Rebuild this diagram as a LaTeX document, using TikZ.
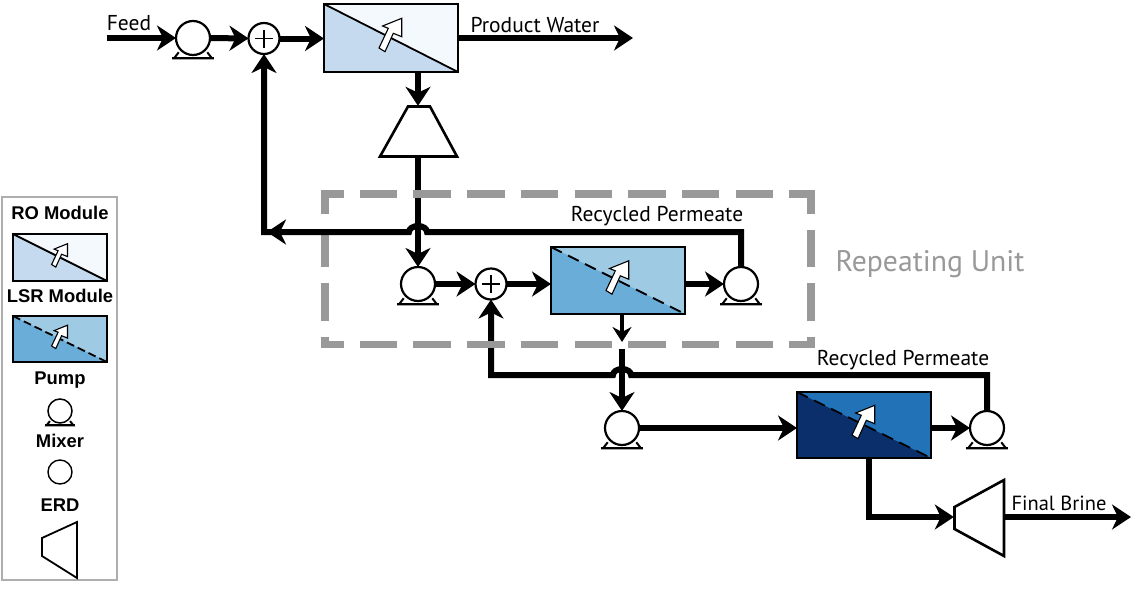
\documentclass[tikz,border=0pt]{standalone}
\usepackage{fontspec}
\setmainfont{PT Sans}
\newfontfamily\legendfont{Liberation Sans}
\usetikzlibrary{arrows.meta,calc}
\definecolor{roA}{HTML}{C5D9EF}
\definecolor{roB}{HTML}{F4F9FE}
\definecolor{lsA}{HTML}{6AADD8}
\definecolor{lsB}{HTML}{9ECAE3}
\definecolor{bgA}{HTML}{0B2F6B}
\definecolor{bgB}{HTML}{2272B8}
\definecolor{dashgray}{HTML}{999999}
\definecolor{legendgray}{HTML}{AEAEAE}
\tikzset{
  x=1pt,y=-1pt,
  flow/.style={line width=6pt,draw=black},
  flowarrow/.style={flow,line join=miter,-{Stealth[length=19pt,width=25pt,inset=6pt]}},
  thinarrow/.style={line width=4.5pt,draw=black,-{Stealth[length=15pt,width=19pt,inset=5pt]}},
  unit/.style={circle,draw=black,fill=white,line width=2.2pt,inner sep=0pt,minimum size=#1,outer sep=0pt},
  modbox/.style n args={2}{rectangle,draw=black,line width=2.2pt,inner sep=0pt,minimum width=#1,minimum height=#2,outer sep=0pt},
  plabel/.style={font=\fontsize{21.5}{24}\selectfont,inner sep=0pt},
  leglabel/.style={font=\legendfont\bfseries\fontsize{18.4}{20}\selectfont,inner sep=0pt},
  erdshape/.style={draw=black,fill=white,line width=2.6pt,line join=miter},
  hollow/.style={draw=black,fill=white,line width=1.1pt,line join=miter},
  framedash/.style={draw=dashgray,line width=7.5pt,dash pattern=on 37.5pt off 16.2pt},
}
% \pumpunit[opts]{name}{x}{y}{diam}
\newcommand{\pumpunit}[5][]{%
  \draw[black,line width=2pt,fill=white] ($(#3,#4)+(-0.42*#5,0.42*#5)$) -- ($(#3,#4)+(-0.56*#5,0.60*#5)$) -- ($(#3,#4)+(0.56*#5,0.60*#5)$) -- ($(#3,#4)+(0.42*#5,0.42*#5)$);
  \draw[black,line width=2pt] ($(#3,#4)+(-0.62*#5,0.60*#5)$) -- ($(#3,#4)+(0.62*#5,0.60*#5)$);
  \node[unit=#5 pt,#1] (#2) at (#3,#4) {};
}
% \mixerunit{name}{x}{y}
\newcommand{\mixerunit}[3]{%
  \node[unit=31pt] (#1) at (#2,#3) {};
  \draw[black,line width=1.4pt] ($(#1.center)+(-9,0)$) -- ($(#1.center)+(9,0)$) ($(#1.center)+(0,-9)$) -- ($(#1.center)+(0,9)$);
}
% \modunit{name}{x1}{y1}{x2}{y2}{colA}{colB}{linestyle}{arrow scale}
\newcommand{\modunit}[9]{%
  \fill[#7] (#2,#3) rectangle (#4,#5);
  \fill[#6] (#2,#3) -- (#4,#5) -- (#2,#5) -- cycle;
  \draw[black,line width=1.8pt,#8] (#2,#3) -- (#4,#5);
  \begin{scope}[shift={($(#2,#3)!0.5!(#4,#5)$)},scale=#9]
    \draw[hollow] (-12,10) -- (-2.7,-9.7) -- (-8.4,-12) -- (10.7,-19.7) -- (10.7,-1.3) -- (2.3,-4.7) -- (-6,13.7) -- cycle;
  \end{scope}
  \node[modbox={#4pt-#2pt}{#5pt-#3pt}] (#1) at ($(#2,#3)!0.5!(#4,#5)$) {};
}
\begin{document}
\begin{tikzpicture}
\useasboundingbox (0,0) rectangle (1142,589);
\fill[white] (0,0) rectangle (1142,589);

% free ends and bends
\coordinate (feedstart) at (107,38);
\coordinate (prodend) at (633,38);
\coordinate (j1) at (418,232);
\coordinate (c1) at (264,232);
\coordinate (j2) at (622,375);
\coordinate (c2) at (491,375);
\coordinate (bend3) at (869,517);
\coordinate (brineend) at (1131,517);
\coordinate (up3) at (741,232);
\coordinate (up5) at (987,375);

% units
\pumpunit{p1}{193}{38}{34}
\mixerunit{m1}{264}{38.5}
\modunit{ro}{324}{4}{458}{72}{roA}{roB}{}{1}
\node[inner sep=0pt,minimum size=0pt] (erd1top) at (418,106) {};
\node[inner sep=0pt,minimum size=0pt] (erd1bot) at (418,157) {};
\draw[erdshape] (408,106.5) -- (430,106.5) -- (457,156.5) -- (380,156.5) -- cycle;

\pumpunit{p2}{418}{284}{34}
\mixerunit{m2}{491}{284}
\modunit{lsr}{551}{247}{685}{314}{lsA}{lsB}{dash pattern=on 12pt off 7pt}{1}
\pumpunit{p3}{741}{284}{34}
\pumpunit{p4}{622}{428}{34}
\modunit{big}{797}{392}{931}{458}{bgA}{bgB}{dash pattern=on 12pt off 7pt}{1}
\pumpunit{p5}{987}{428}{34}
\draw[erdshape] (1004,480) -- (1004,556) -- (954.5,529) -- (954.5,507) -- cycle;
\node[inner sep=0pt,minimum size=0pt] (erd2in) at (954,517) {};
\node[inner sep=0pt,minimum size=0pt] (erd2out) at (1004,517) {};

% connectors
\draw[flowarrow] (feedstart) -- (p1);
\draw[flowarrow] (p1) -- (m1);
\draw[flowarrow] (m1) -- (ro.west |- m1);
\draw[flowarrow] (ro.east |- prodend) -- (prodend);
\draw[flowarrow] (ro.south -| erd1top) -- (erd1top);
\draw[flowarrow] (erd1bot) -- (p2);
\draw[flowarrow] (p2) -- (m2);
\draw[flowarrow] (m2) -- (lsr.west |- m2);
\draw[flowarrow] (lsr.east |- p3) -- (p3);
\draw[flowarrow] (p4) -- (big.west |- p4);
\draw[flowarrow] (big.east |- p5) -- (p5);
\draw[flowarrow] (big.south -| bend3) -- (bend3) -- (erd2in);
\draw[flowarrow] (erd2out) -- (brineend);
\coordinate (lsrout) at (622,342);
\coordinate (lsrlow) at (622,349);
\draw[thinarrow] (lsr.south -| lsrout) -- (lsrout);
\draw[flowarrow] (p5.north) -- (up5) -- ($(j2)+(9,0)$) arc[x radius=9,y radius=6,start angle=0,end angle=-180] -- (c2) -- (m2.south);
\draw[flowarrow] (lsrlow) -- (p4);

% repeating-unit frame, over the vertical lines
\draw[framedash,dash phase=15pt] (321,194) -- (815,194);
\draw[framedash,dash phase=15pt] (321,344.5) -- (815,344.5);
\draw[framedash,dash phase=14pt] (325,190) -- (325,348);
\draw[framedash,dash phase=14pt] (811,190) -- (811,348);

% recycle over the frame
\draw[flowarrow] (p3.north) -- (up3) -- ($(j1)+(9,0)$) arc[x radius=9,y radius=6,start angle=0,end angle=-180] -- (c1) -- (m1.south);
\draw[flowarrow] ($(c1)+(30,0)$) -- ($(c1)+(3,0)$);

% labels
\node[plabel] (t1) at (129,23) {Feed};
\node[plabel] (t2) at (535,25) {Product Water};
\node[plabel] (t3) at (657,216) {Recycled Permeate};
\node[plabel] (t4) at (903,360) {Recycled Permeate};
\node[plabel,font=\fontsize{20.5}{23}\selectfont] (t5) at (1059,503) {Final Brine};
\node[plabel,text=dashgray,font=\fontsize{29.7}{32}\selectfont] (t6) at (930,264) {Repeating Unit};

% legend
\draw[draw=legendgray,line width=1.5pt,fill=white] (2,197) rectangle (117,580);
\node[leglabel] (l1) at (60,213) {RO Module};
\modunit{lro}{13}{234}{107}{281}{roA}{roB}{}{0.7}
\node[leglabel] (l2) at (60,296) {LSR Module};
\modunit{llsr}{13}{316}{107}{362}{lsA}{lsB}{dash pattern=on 8pt off 4pt}{0.7}
\node[leglabel] (l3) at (60,380) {Pump};
\pumpunit[line width=1.5pt]{lp}{60}{411}{24}
\node[leglabel] (l4) at (60,441) {Mixer};
\node[unit=24pt,line width=1.4pt] (lm) at (60,472) {};
\node[leglabel] (l5) at (60,505) {ERD};
\draw[erdshape,line width=1.8pt] (77,522) -- (77,578) -- (42,556) -- (42,538) -- cycle;
\end{tikzpicture}
\end{document}
